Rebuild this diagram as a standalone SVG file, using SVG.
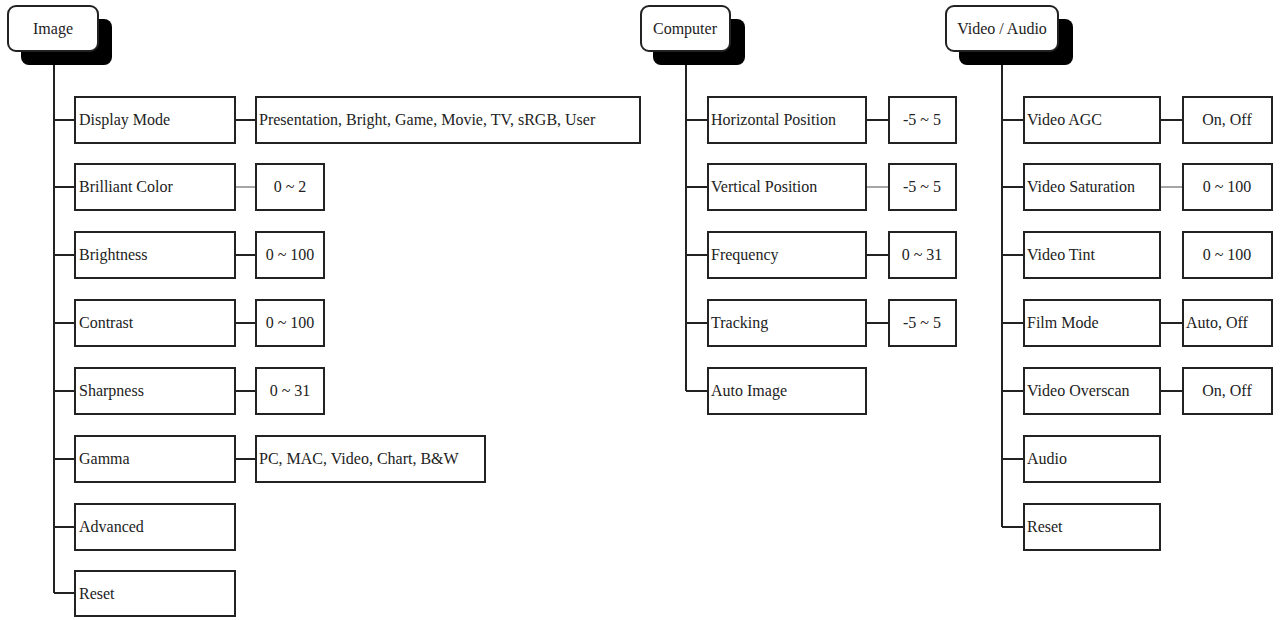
<svg xmlns="http://www.w3.org/2000/svg" width="1282" height="620" viewBox="0 0 1282 620">
<style>
.b{fill:#fff;stroke:#222;stroke-width:2}
.h{fill:#fff;stroke:#222;stroke-width:2}
.s{fill:#000}
.t{font-family:"Liberation Serif",serif;font-size:16px;fill:#222}
.c{stroke:#222;stroke-width:2;fill:none}
.g{stroke:#888;stroke-width:1.5;fill:none}
</style>
<rect width="1282" height="620" fill="#fff"/>
<g id="connectors">
<path class="c" d="M54 65V593M54 120H75M54 187H75M54 255H75M54 323H75M54 391H75M54 459H75M54 527H75M54 593H75"/>
<path class="c" d="M235 120H256M235 255H256M235 323H256M235 391H256M235 459H256"/>
<path class="g" d="M235 187H256"/>
<path class="c" d="M686 65V391M686 120H708M686 187H708M686 255H708M686 323H708M686 391H708"/>
<path class="c" d="M866 120H889M866 255H889M866 323H889"/>
<path class="g" d="M866 187H889"/>
<path class="c" d="M1002 65V527M1002 120H1024M1002 187H1024M1002 255H1024M1002 323H1024M1002 391H1024M1002 459H1024M1002 527H1024"/>
<path class="c" d="M1160 120H1183M1160 323H1183M1160 391H1183"/>
<path class="g" d="M1160 187H1183"/>
</g>
<g id="image"><rect class="s" x="21" y="19" width="91" height="46" rx="8"/><rect class="h" x="8" y="6" width="90" height="45" rx="8"/><text class="t" x="53" y="34" text-anchor="middle">Image</text></g>
<g id="computer"><rect class="s" x="653" y="19" width="92" height="46" rx="8"/><rect class="h" x="641" y="6" width="89" height="45" rx="8"/><text class="t" x="685" y="34" text-anchor="middle">Computer</text></g>
<g id="videoaudio"><rect class="s" x="959" y="19" width="114" height="46" rx="8"/><rect class="h" x="946" y="6" width="112" height="45" rx="8"/><text class="t" x="1002" y="34" text-anchor="middle">Video / Audio</text></g>

<g id="display-mode"><rect class="b" x="75" y="97" width="160" height="46"/><text class="t" x="79" y="125">Display Mode</text></g>
<g id="display-mode-v"><rect class="b" x="256" y="97" width="384" height="46"/><text class="t" x="259" y="125">Presentation, Bright, Game, Movie, TV, sRGB, User</text></g>
<g id="brilliant"><rect class="b" x="75" y="164" width="160" height="46"/><text class="t" x="79" y="192">Brilliant Color</text></g>
<g id="brilliant-v"><rect class="b" x="256" y="164" width="68" height="46"/><text class="t" x="290" y="192" text-anchor="middle">0 ~ 2</text></g>
<g id="brightness"><rect class="b" x="75" y="232" width="160" height="46"/><text class="t" x="79" y="260">Brightness</text></g>
<g id="brightness-v"><rect class="b" x="256" y="232" width="68" height="46"/><text class="t" x="290" y="260" text-anchor="middle">0 ~ 100</text></g>
<g id="contrast"><rect class="b" x="75" y="300" width="160" height="46"/><text class="t" x="79" y="328">Contrast</text></g>
<g id="contrast-v"><rect class="b" x="256" y="300" width="68" height="46"/><text class="t" x="290" y="328" text-anchor="middle">0 ~ 100</text></g>
<g id="sharpness"><rect class="b" x="75" y="368" width="160" height="46"/><text class="t" x="79" y="396">Sharpness</text></g>
<g id="sharpness-v"><rect class="b" x="256" y="368" width="68" height="46"/><text class="t" x="290" y="396" text-anchor="middle">0 ~ 31</text></g>
<g id="gamma"><rect class="b" x="75" y="436" width="160" height="46"/><text class="t" x="79" y="464">Gamma</text></g>
<g id="gamma-v"><rect class="b" x="256" y="436" width="229" height="46"/><text class="t" x="259" y="464">PC, MAC, Video, Chart, B&amp;W</text></g>
<g id="advanced"><rect class="b" x="75" y="504" width="160" height="46"/><text class="t" x="79" y="532">Advanced</text></g>
<g id="reset1"><rect class="b" x="75" y="571" width="160" height="45"/><text class="t" x="79" y="599">Reset</text></g>

<g id="hpos"><rect class="b" x="708" y="97" width="158" height="46"/><text class="t" x="711" y="125">Horizontal Position</text></g>
<g id="hpos-v"><rect class="b" x="889" y="97" width="67" height="46"/><text class="t" x="922" y="125" text-anchor="middle">-5 ~ 5</text></g>
<g id="vpos"><rect class="b" x="708" y="164" width="158" height="46"/><text class="t" x="711" y="192">Vertical Position</text></g>
<g id="vpos-v"><rect class="b" x="889" y="164" width="67" height="46"/><text class="t" x="922" y="192" text-anchor="middle">-5 ~ 5</text></g>
<g id="freq"><rect class="b" x="708" y="232" width="158" height="46"/><text class="t" x="711" y="260">Frequency</text></g>
<g id="freq-v"><rect class="b" x="889" y="232" width="67" height="46"/><text class="t" x="922" y="260" text-anchor="middle">0 ~ 31</text></g>
<g id="tracking"><rect class="b" x="708" y="300" width="158" height="46"/><text class="t" x="711" y="328">Tracking</text></g>
<g id="tracking-v"><rect class="b" x="889" y="300" width="67" height="46"/><text class="t" x="922" y="328" text-anchor="middle">-5 ~ 5</text></g>
<g id="autoimage"><rect class="b" x="708" y="368" width="158" height="46"/><text class="t" x="711" y="396">Auto Image</text></g>

<g id="agc"><rect class="b" x="1024" y="97" width="136" height="46"/><text class="t" x="1027" y="125">Video AGC</text></g>
<g id="agc-v"><rect class="b" x="1183" y="97" width="89" height="46"/><text class="t" x="1227" y="125" text-anchor="middle">On, Off</text></g>
<g id="sat"><rect class="b" x="1024" y="164" width="136" height="46"/><text class="t" x="1027" y="192">Video Saturation</text></g>
<g id="sat-v"><rect class="b" x="1183" y="164" width="89" height="46"/><text class="t" x="1227" y="192" text-anchor="middle">0 ~ 100</text></g>
<g id="tint"><rect class="b" x="1024" y="232" width="136" height="46"/><text class="t" x="1027" y="260">Video Tint</text></g>
<g id="tint-v"><rect class="b" x="1183" y="232" width="89" height="46"/><text class="t" x="1227" y="260" text-anchor="middle">0 ~ 100</text></g>
<g id="film"><rect class="b" x="1024" y="300" width="136" height="46"/><text class="t" x="1027" y="328">Film Mode</text></g>
<g id="film-v"><rect class="b" x="1183" y="300" width="89" height="46"/><text class="t" x="1186" y="328">Auto, Off</text></g>
<g id="overscan"><rect class="b" x="1024" y="368" width="136" height="46"/><text class="t" x="1027" y="396">Video Overscan</text></g>
<g id="overscan-v"><rect class="b" x="1183" y="368" width="89" height="46"/><text class="t" x="1227" y="396" text-anchor="middle">On, Off</text></g>
<g id="audio"><rect class="b" x="1024" y="436" width="136" height="46"/><text class="t" x="1027" y="464">Audio</text></g>
<g id="reset2"><rect class="b" x="1024" y="504" width="136" height="46"/><text class="t" x="1027" y="532">Reset</text></g>
</svg>
